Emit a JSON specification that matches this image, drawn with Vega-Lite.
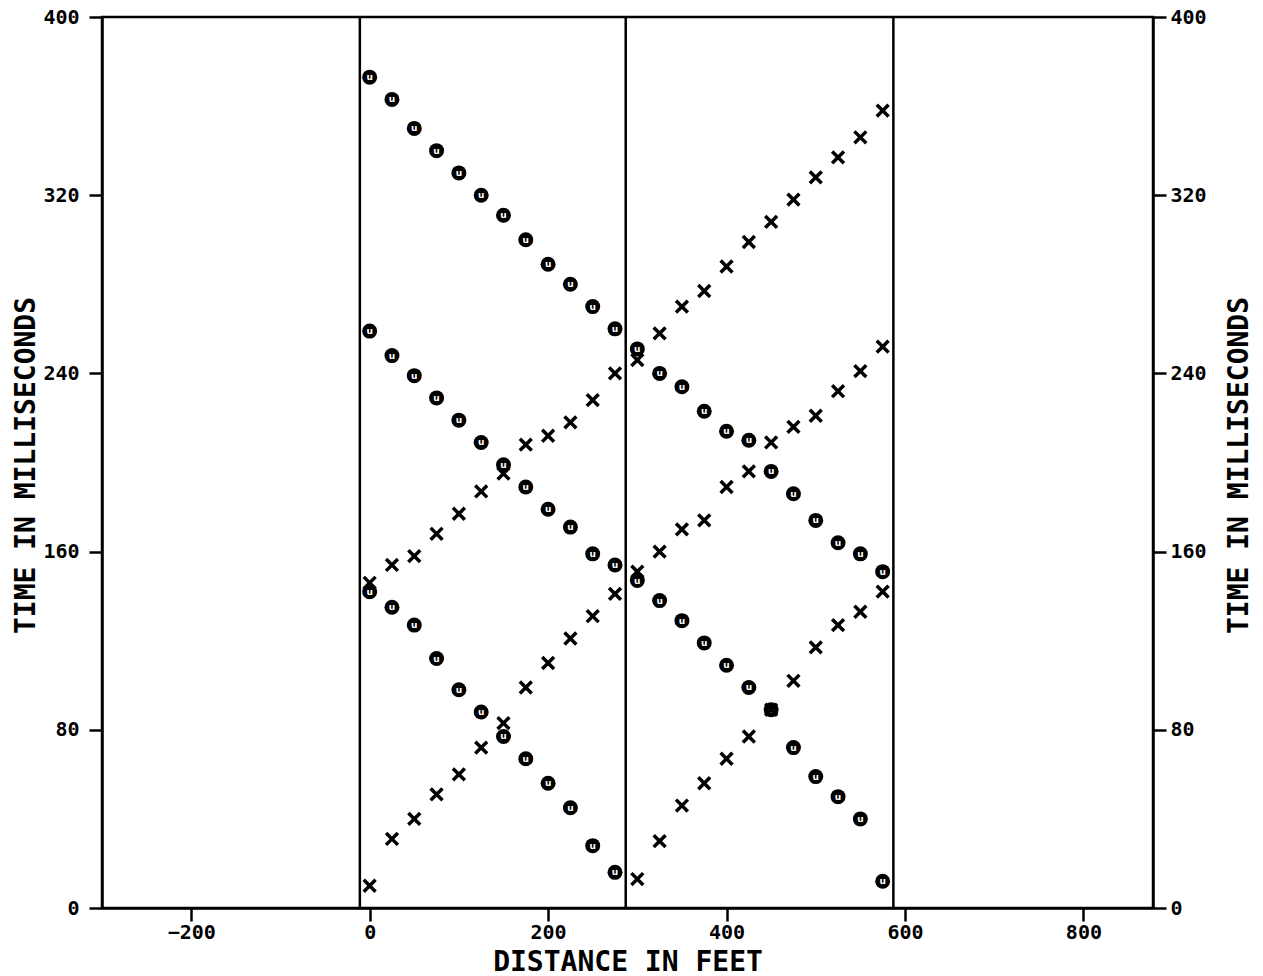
{
  "$schema": "https://vega.github.io/schema/vega-lite/v6.json",
  "width": 1051,
  "height": 891,
  "autosize": {"type": "none"},
  "padding": {"left": 102, "top": 17, "right": 110, "bottom": 68},
  "background": "white",
  "config": {
    "view": {"stroke": "black", "strokeWidth": 2.5},
    "axis": {
      "grid": false,
      "domainColor": "black",
      "domainWidth": 2.5,
      "tickColor": "black",
      "tickWidth": 2.5,
      "tickSize": 13,
      "labelFont": "DejaVu Sans Mono",
      "labelFontWeight": "bold",
      "labelFontSize": 20,
      "labelColor": "black",
      "labelFlush": false,
      "labelOverlap": false,
      "titleFont": "DejaVu Sans Mono",
      "titleFontWeight": "bold",
      "titleFontSize": 28,
      "titleColor": "black"
    }
  },
  "datasets": {
    "lines": [{"d": -11}, {"d": 287}, {"d": 587}],
    "pts": [
      {"d": 0, "t": 373, "m": "o"}, {"d": 25, "t": 363, "m": "o"}, {"d": 50, "t": 350, "m": "o"}, {"d": 75, "t": 340, "m": "o"},
      {"d": 100, "t": 330, "m": "o"}, {"d": 125, "t": 320, "m": "o"}, {"d": 150, "t": 311, "m": "o"}, {"d": 175, "t": 300, "m": "o"},
      {"d": 200, "t": 289, "m": "o"}, {"d": 225, "t": 280, "m": "o"}, {"d": 250, "t": 270, "m": "o"}, {"d": 275, "t": 260, "m": "o"},
      {"d": 300, "t": 251, "m": "o"}, {"d": 325, "t": 240, "m": "o"}, {"d": 350, "t": 234, "m": "o"}, {"d": 375, "t": 223, "m": "o"},
      {"d": 400, "t": 214, "m": "o"}, {"d": 425, "t": 210, "m": "o"},
      {"d": 0, "t": 259, "m": "o"}, {"d": 25, "t": 248, "m": "o"}, {"d": 50, "t": 239, "m": "o"}, {"d": 75, "t": 229, "m": "o"},
      {"d": 100, "t": 219, "m": "o"}, {"d": 125, "t": 209, "m": "o"}, {"d": 150, "t": 199, "m": "o"}, {"d": 175, "t": 189, "m": "o"},
      {"d": 200, "t": 179, "m": "o"}, {"d": 225, "t": 171, "m": "o"}, {"d": 250, "t": 159, "m": "o"}, {"d": 275, "t": 154, "m": "o"},
      {"d": 300, "t": 147, "m": "o"}, {"d": 325, "t": 138, "m": "o"}, {"d": 350, "t": 129, "m": "o"}, {"d": 375, "t": 119, "m": "o"},
      {"d": 400, "t": 109, "m": "o"}, {"d": 425, "t": 99, "m": "o"}, {"d": 450, "t": 89, "m": "o"}, {"d": 475, "t": 72, "m": "o"},
      {"d": 500, "t": 59, "m": "o"}, {"d": 525, "t": 50, "m": "o"}, {"d": 550, "t": 40, "m": "o"}, {"d": 575, "t": 12, "m": "o"},
      {"d": 0, "t": 142, "m": "o"}, {"d": 25, "t": 135, "m": "o"}, {"d": 50, "t": 127, "m": "o"}, {"d": 75, "t": 112, "m": "o"},
      {"d": 100, "t": 98, "m": "o"}, {"d": 125, "t": 88, "m": "o"}, {"d": 150, "t": 77, "m": "o"}, {"d": 175, "t": 67, "m": "o"},
      {"d": 200, "t": 56, "m": "o"}, {"d": 225, "t": 45, "m": "o"}, {"d": 250, "t": 28, "m": "o"}, {"d": 275, "t": 16, "m": "o"},
      {"d": 450, "t": 196, "m": "o"}, {"d": 475, "t": 186, "m": "o"}, {"d": 500, "t": 174, "m": "o"}, {"d": 525, "t": 164, "m": "o"},
      {"d": 550, "t": 159, "m": "o"}, {"d": 575, "t": 151, "m": "o"},
      {"d": 0, "t": 10, "m": "x"}, {"d": 25, "t": 31, "m": "x"}, {"d": 50, "t": 40, "m": "x"}, {"d": 75, "t": 51, "m": "x"},
      {"d": 100, "t": 60, "m": "x"}, {"d": 125, "t": 72, "m": "x"}, {"d": 150, "t": 83, "m": "x"}, {"d": 175, "t": 99, "m": "x"},
      {"d": 200, "t": 110, "m": "x"}, {"d": 225, "t": 121, "m": "x"}, {"d": 250, "t": 131, "m": "x"}, {"d": 275, "t": 141, "m": "x"},
      {"d": 300, "t": 13, "m": "x"}, {"d": 325, "t": 30, "m": "x"}, {"d": 350, "t": 46, "m": "x"}, {"d": 375, "t": 56, "m": "x"},
      {"d": 400, "t": 67, "m": "x"}, {"d": 425, "t": 77, "m": "x"}, {"d": 450, "t": 89, "m": "x"}, {"d": 475, "t": 102, "m": "x"},
      {"d": 500, "t": 117, "m": "x"}, {"d": 525, "t": 127, "m": "x"}, {"d": 550, "t": 133, "m": "x"}, {"d": 575, "t": 142, "m": "x"},
      {"d": 0, "t": 146, "m": "x"}, {"d": 25, "t": 154, "m": "x"}, {"d": 50, "t": 158, "m": "x"}, {"d": 75, "t": 168, "m": "x"},
      {"d": 100, "t": 177, "m": "x"}, {"d": 125, "t": 187, "m": "x"}, {"d": 150, "t": 195, "m": "x"}, {"d": 175, "t": 208, "m": "x"},
      {"d": 200, "t": 212, "m": "x"}, {"d": 225, "t": 218, "m": "x"}, {"d": 250, "t": 228, "m": "x"}, {"d": 275, "t": 240, "m": "x"},
      {"d": 300, "t": 246, "m": "x"}, {"d": 325, "t": 258, "m": "x"}, {"d": 350, "t": 270, "m": "x"}, {"d": 375, "t": 277, "m": "x"},
      {"d": 400, "t": 288, "m": "x"}, {"d": 425, "t": 299, "m": "x"}, {"d": 450, "t": 308, "m": "x"}, {"d": 475, "t": 318, "m": "x"},
      {"d": 500, "t": 328, "m": "x"}, {"d": 525, "t": 337, "m": "x"}, {"d": 550, "t": 346, "m": "x"}, {"d": 575, "t": 358, "m": "x"},
      {"d": 300, "t": 151, "m": "x"}, {"d": 325, "t": 160, "m": "x"}, {"d": 350, "t": 170, "m": "x"}, {"d": 375, "t": 174, "m": "x"},
      {"d": 400, "t": 189, "m": "x"}, {"d": 425, "t": 196, "m": "x"}, {"d": 450, "t": 209, "m": "x"}, {"d": 475, "t": 216, "m": "x"},
      {"d": 500, "t": 221, "m": "x"}, {"d": 525, "t": 232, "m": "x"}, {"d": 550, "t": 241, "m": "x"}, {"d": 575, "t": 252, "m": "x"}
    ]
  },
  "resolve": {"axis": {"y": "independent"}},
  "layer": [
    {
      "data": {"name": "lines"},
      "mark": {"type": "rule", "color": "black", "strokeWidth": 2.5},
      "encoding": {
        "x": {"field": "d", "type": "quantitative", "scale": {"domain": [-300, 878], "nice": false, "zero": false},
          "axis": {"values": [-200, 0, 200, 400, 600, 800], "title": "DISTANCE IN FEET", "labelPadding": 1, "titleBaseline": "alphabetic", "titleY": 62}}
      }
    },
    {
      "data": {"name": "pts"},
      "transform": [{"filter": "datum.m === 'o'"}],
      "mark": {"type": "point", "shape": "circle", "filled": true, "color": "black", "size": 225, "opacity": 1},
      "encoding": {
        "x": {"field": "d", "type": "quantitative"},
        "y": {"field": "t", "type": "quantitative", "scale": {"domain": [0, 400], "nice": false},
          "axis": {"orient": "left", "values": [0, 80, 160, 240, 320, 400], "title": "TIME IN MILLISECONDS", "labelPadding": 10,
            "titleAngle": -90, "titleBaseline": "alphabetic", "titleX": -68, "titleY": 448, "titleAlign": "center"}}
      }
    },
    {
      "data": {"name": "pts"},
      "transform": [{"filter": "datum.m === 'o'"}],
      "mark": {"type": "text", "text": "u", "color": "white", "font": "DejaVu Sans", "fontWeight": "bold", "fontSize": 9, "baseline": "alphabetic", "align": "center", "dy": 3},
      "encoding": {
        "x": {"field": "d", "type": "quantitative"},
        "y": {"field": "t", "type": "quantitative", "axis": null}
      }
    },
    {
      "data": {"name": "pts"},
      "transform": [{"filter": "datum.m === 'x'"}],
      "mark": {"type": "point", "shape": "M-1,-1L1,1M1,-1L-1,1", "filled": false, "stroke": "black", "strokeWidth": 3.5, "size": 140, "opacity": 1},
      "encoding": {
        "x": {"field": "d", "type": "quantitative"},
        "y": {"field": "t", "type": "quantitative",
          "axis": {"orient": "right", "values": [0, 80, 160, 240, 320, 400], "title": "TIME IN MILLISECONDS", "labelPadding": 4,
            "titleAngle": -90, "titleBaseline": "alphabetic", "titleX": 94, "titleY": 448, "titleAlign": "center"}}
      }
    }
  ]
}
